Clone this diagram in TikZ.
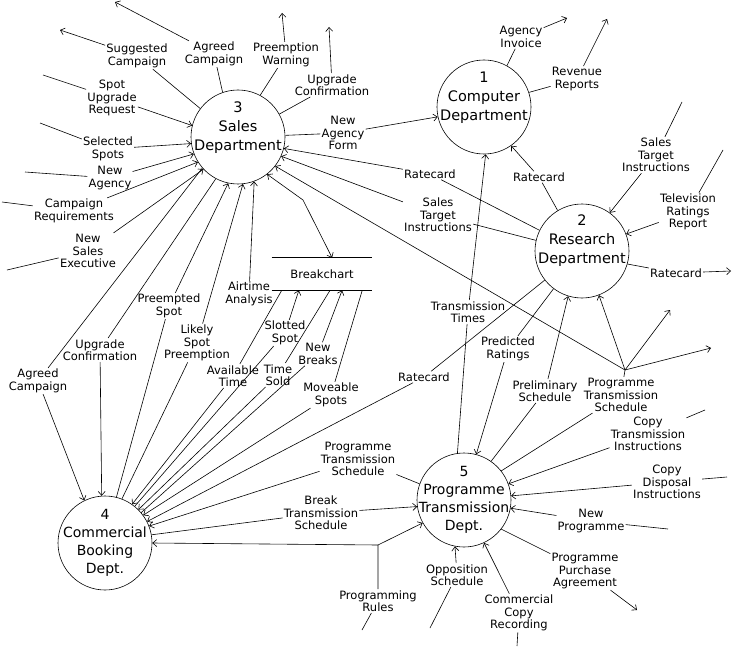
\documentclass[tikz,border=0pt]{standalone}
\usepackage{fontspec}
\setmainfont{DejaVu Sans}
\usetikzlibrary{arrows.meta,calc}

\begin{document}
\begin{tikzpicture}[x=1pt,y=-1pt,line width=0.6pt,
    >={Straight Barb[length=4pt,width=7pt]},
    proc/.style={circle,draw,minimum size=94pt,inner sep=0pt},
    proctxt/.style={align=center,inner sep=0pt,font=\fontsize{14.5}{19}\selectfont},
    flow/.style={align=center,inner sep=1pt,font=\fontsize{11.5}{12.5}\selectfont}]
    \useasboundingbox (0,0) rectangle (733,647);

    % Processes
    \node[proc] (computer) at (484,107) {};
    \node[proctxt,yshift=9pt] at (computer) {1\\Computer\\Department};
    \node[proc] (research) at (582,251) {};
    \node[proctxt,yshift=10pt] at (research) {2\\Research\\Department};
    \node[proc] (sales) at (238,137) {};
    \node[proctxt,yshift=9pt] at (sales) {3\\Sales\\Department};
    \node[proc] (booking) at (105,543) {};
    \node[proctxt,font=\fontsize{14}{18}\selectfont] at (booking) {4\\Commercial\\Booking\\Dept.};
    \node[proc] (prog) at (464,500) {};
    \node[proctxt,font=\fontsize{14}{18}\selectfont] at (prog) {5\\Programme\\Transmission\\Dept.};

    % Data store
    \node[flow,minimum width=100pt,minimum height=32pt] (bc) at (322,274) {Breakchart};
    \draw (bc.north west) -- (bc.north east) (bc.south west) -- (bc.south east);

    % Free ends
    \coordinate (eSugg) at (60,30);
    \coordinate (eAgr1) at (115,2);
    \coordinate (eWarn) at (282,13);
    \coordinate (eUpg1) at (329,27);
    \coordinate (eUpreq) at (43,75);
    \coordinate (eSel) at (40,123);
    \coordinate (eNewag) at (25,172);
    \coordinate (eCamp) at (2,202);
    \coordinate (eNse) at (7,270);
    \coordinate (eInv) at (567,18);
    \coordinate (eRev) at (607,19);
    \coordinate (eSti2) at (682,102);
    \coordinate (eTvr) at (723,150);
    \coordinate (eRc3) at (731,271);
    \coordinate (ePtsA) at (670,310);
    \coordinate (ePtsB) at (711,348);
    \coordinate (eCti) at (705,410);
    \coordinate (eCdi) at (727,477);
    \coordinate (eNewp) at (668,529);
    \coordinate (ePpa) at (637,610);
    \coordinate (eCcr) at (517,646);
    \coordinate (eOpp) at (430,628);
    \coordinate (eRules) at (362,630);
    \coordinate (bcBend) at (303,200);
    \coordinate (jPts) at (625,370);
    \coordinate (jRules) at (378,545);

    % Sales department flows
    \node[flow] (sugg) at (137,56) {Suggested\\Campaign};
    \node[flow] (agr1) at (214,54) {Agreed\\Campaign};
    \node[flow] (warn) at (286,55) {Preemption\\Warning};
    \node[flow] (upg1) at (332,85) {Upgrade\\Confirmation};
    \node[flow] (upreq) at (112,98) {Spot\\Upgrade\\Request};
    \node[flow] (sel) at (108,149) {Selected\\Spots};
    \node[flow] (newag) at (110,178) {New\\Agency};
    \node[flow] (camp) at (74,211) {Campaign\\Requirements};
    \node[flow] (nse) at (88,251) {New\\Sales\\Executive};
    \node[flow] (naf) at (343,133) {New\\Agency\\Form};
    \draw[->] (sales.143) -- (sugg) -- (eSugg);
    \draw[->] (sales.109) -- (agr1) -- (eAgr1);
    \draw[->] (sales.62) -- (warn) -- (eWarn);
    \draw[->] (sales.29) -- (upg1) -- (eUpg1);
    \draw[->] (eUpreq) -- (upreq) -- (sales.166);
    \draw[->] (eSel) -- (sel) -- (sales.188);
    \draw[->] (eNewag) -- (newag) -- (sales.201);
    \draw[->] (eCamp) -- (camp) -- (sales.212);
    \draw[->] (eNse) -- (nse) -- (sales.223);
    \draw[->] (sales.2) -- (naf) -- (computer.192);
    \draw[<->] (sales.308) -- (bcBend) -- ($(bc.north west)!.6!(bc.north east)$);

    % Computer department flows
    \node[flow] (inv) at (521,37) {Agency\\Invoice};
    \node[flow] (rev) at (577,79) {Revenue\\Reports};
    \draw[->] (computer.61) -- (inv) -- (eInv);
    \draw[->] (computer.18) -- (rev) -- (eRev);

    % Research department flows
    \node[flow] (rc1) at (539,177) {Ratecard};
    \node[flow] (rc2) at (430,174) {Ratecard};
    \node[flow] (sti1) at (438,215) {Sales\\Target\\Instructions};
    \node[flow] (sti2) at (656,155) {Sales\\Target\\Instructions};
    \node[flow] (tvr) at (688,212) {Television\\Ratings\\Report};
    \node[flow] (rc3) at (676,273) {Ratecard};
    \node[flow] (rc4) at (424,377) {Ratecard};
    \node[flow] (pred) at (508,349) {Predicted\\Ratings};
    \node[flow] (prel) at (545,391) {Preliminary\\Schedule};
    \node[flow] (tt) at (468,312) {Transmission\\Times};
    \draw[->] (research.121) -- (rc1) -- (computer.305);
    \draw[->] (research.154) -- (rc2) -- (sales.346);
    \draw[->] (research.167) -- (sti1) -- (sales.336);
    \draw[->] (eSti2) -- (sti2) -- (research.54);
    \draw[->] (eTvr) -- (tvr) -- (research.21);
    \draw[->] (research.344) -- (rc3) -- (eRc3);
    \draw[->] (research.218) -- (rc4) -- (booking.27);
    \draw[->] (research.233) -- (pred) -- (prog.75);
    \draw[->] (prog.55) -- (prel) -- (research.253);
    \draw[->] (prog.98) -- (tt) -- (computer.272);

    % Programme transmission schedule split
    \node[flow] (pts2) at (621,395) {Programme\\Transmission\\Schedule};
    \draw (prog.38) -- (pts2) -- (jPts);
    \draw[->] (jPts) -- (research.291);
    \draw[->] (jPts) -- (ePtsA);
    \draw[->] (jPts) -- (ePtsB);
    \draw[->] (jPts) -- (sales.322);

    % Commercial booking flows
    \node[flow] (agr2) at (38,381) {Agreed\\Campaign};
    \node[flow] (upg2) at (100,350) {Upgrade\\Confirmation};
    \node[flow] (pre) at (169,306) {Preempted\\Spot};
    \node[flow] (likely) at (197,343) {Likely\\Spot\\Preemption};
    \node[flow] (air) at (249,294) {Airtime\\Analysis};
    \draw[->] (sales.221) -- (agr2) -- (booking.116);
    \draw[->] (sales.242) -- (upg2) -- (booking.94);
    \draw[->] (booking.76) -- (pre) -- (sales.258);
    \draw[->] (booking.69) -- (likely) -- (sales.276);
    \draw[->] (air) -- (sales.290);

    % Breakchart flows
    \node[flow] (avail) at (233,376) {Available\\Time};
    \node[flow] (slot) at (285,333) {Slotted\\Spot};
    \node[flow] (sold) at (278,375) {Time\\Sold};
    \node[flow] (nbr) at (318,354) {New\\Breaks};
    \node[flow] (move) at (331,395) {Moveable\\Spots};
    \draw[->] ($(bc.south west)!.1!(bc.south east)$) -- (avail) -- (booking.55);
    \draw[->] (booking.51) -- (slot) -- ($(bc.south west)!.27!(bc.south east)$);
    \draw[->] ($(bc.south west)!.58!(bc.south east)$) -- (sold) -- (booking.45);
    \draw[->] (booking.40) -- (nbr) -- ($(bc.south west)!.7!(bc.south east)$);
    \draw[->] ($(bc.south west)!.9!(bc.south east)$) -- (move) -- (booking.36);

    % Booking and transmission
    \node[flow] (pts1) at (358,459) {Programme\\Transmission\\Schedule};
    \node[flow] (bts) at (321,513) {Break\\Transmission\\Schedule};
    \node[flow] (rules) at (378,601) {Programming\\Rules};
    \draw[->] (prog.160) -- (pts1) -- (booking.21);
    \draw[->] (booking.10) -- (bts) -- (prog.188);
    \draw (eRules) -- (rules) -- (jRules);
    \draw[->] (jRules) -- (booking.0);
    \draw[->] (jRules) -- (prog.209);

    % Programme transmission external flows
    \node[flow] (cti) at (648,434) {Copy\\Transmission\\Instructions};
    \node[flow] (cdi) at (667,482) {Copy\\Disposal\\Instructions};
    \node[flow] (newp) at (591,521) {New\\Programme};
    \node[flow] (ppa) at (585,571) {Programme\\Purchase\\Agreement};
    \node[flow] (ccr) at (519,613) {Commercial\\Copy\\Recording};
    \node[flow] (opp) at (457,575) {Opposition\\Schedule};
    \draw[->] (eCti) -- (cti) -- (prog.20);
    \draw[->] (eCdi) -- (cdi) -- (prog.5);
    \draw[->] (eNewp) -- (newp) -- (prog.350);
    \draw[->] (prog.322) -- (ppa) -- (ePpa);
    \draw[->] (eCcr) -- (ccr) -- (prog.295);
    \draw[->] (eOpp) -- (opp) -- (prog.259);
\end{tikzpicture}
\end{document}
